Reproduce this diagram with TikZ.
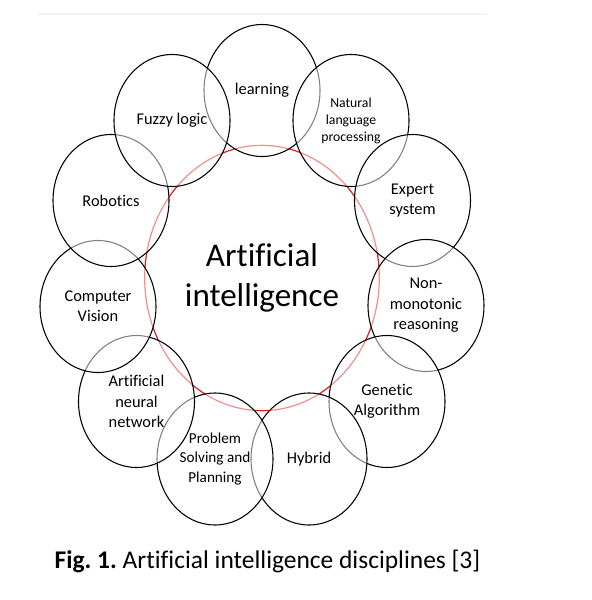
\documentclass[tikz,border=0pt]{standalone}
\usepackage{fontspec}
\setmainfont{Carlito}[Ligatures=NoCommon]
\frenchspacing
\usetikzlibrary{shapes.geometric}
\begin{document}
\begin{tikzpicture}[x=0.75pt,y=-0.75pt,
  disc/.style={ellipse, draw=black, line width=0.8pt, fill=white, fill opacity=0.5, text opacity=1,
    minimum width=87pt, minimum height=99pt, inner sep=0pt, align=center,
    font=\fontsize{12.3}{15.3}\selectfont},
  small/.style={font=\fontsize{10.3}{12.8}\selectfont},
  mid/.style={font=\fontsize{11.4}{14.3}\selectfont},
  hub/.style={ellipse, draw={rgb,255:red,225;green,30;blue,30}, line width=0.9pt,
    minimum width=176pt, minimum height=199pt, inner sep=0pt, align=center,
    font=\fontsize{24.8}{30}\selectfont},
  rule/.style={draw={rgb,255:red,243;green,243;blue,243}, line width=0.8pt}]
\useasboundingbox (0,0) rectangle (592,600);
\coordinate (r1) at (37,14);
\coordinate (r2) at (487,14);
\draw[rule] (r1) -- (r2);
\node[hub] (ai) at (262,278) {Artificial\\intelligence};
\node[disc] (learn) at (262,90.5) {learning};
\node[disc,small] (nlp) at (351,120.5) {Natural\\language\\processing};
\node[disc] (expert) at (412.5,200.5) {Expert\\system};
\node[disc] (nonmono) at (426,305.5) {Non-\\monotonic\\reasoning};
\node[disc] (genetic) at (387,401.5) {Genetic\\Algorithm};
\node[disc] (hybrid) at (309,459) {Hybrid};
\node[disc,mid] (psp) at (215,459) {Problem\\Solving and\\Planning};
\node[disc] (ann) at (136.5,401.5) {Artificial\\neural\\network};
\node[disc] (cv) at (98,306.5) {Computer\\Vision};
\node[disc] (robot) at (111,200.5) {Robotics};
\node[disc] (fuzzy) at (172,120.5) {Fuzzy logic};
\node[anchor=base, font=\fontsize{19.1}{23}\selectfont] (cap) at (267.5,568)
  {\textbf{Fig. 1.} Artificial intelligence disciplines [3]};
\end{tikzpicture}
\end{document}
